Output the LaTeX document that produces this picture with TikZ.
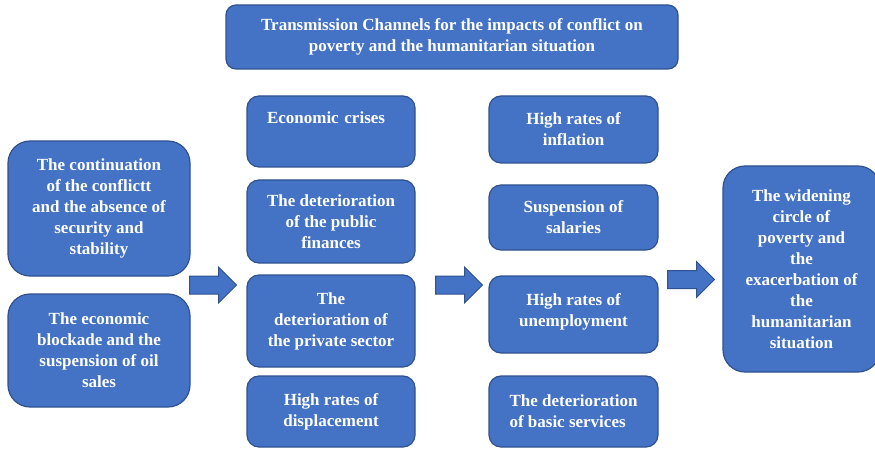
\documentclass[tikz,border=0pt]{standalone}
\usepackage{fontspec}
\setmainfont{Liberation Serif}
\usetikzlibrary{shapes.arrows}
\definecolor{boxblue}{HTML}{4472C4}
\definecolor{boxedge}{HTML}{2F528F}
\tikzset{
  chan/.style={draw=boxedge, fill=boxblue, line width=1.2pt,
    rounded corners=12pt, text=white, align=center, inner sep=0pt,
    font=\bfseries\fontsize{17}{21}\selectfont},
  bigchan/.style={chan, rounded corners=22pt},
  push/.style={single arrow, draw=boxedge, fill=boxblue, line width=1pt,
    minimum height=47pt, inner sep=8.5pt, single arrow head extend=9pt,
    anchor=tail}
}
\begin{document}
\begin{tikzpicture}[x=1pt,y=-1pt]
        \useasboundingbox (0,0) rectangle (875,449);

        \node (title) [chan, rounded corners=10pt, minimum width=452pt, minimum height=64pt] at (452,37)
        {Transmission Channels for the impacts of conflict on\\ poverty and the humanitarian situation};

        \node (conflict) [bigchan, minimum width=182pt, minimum height=135pt] at (99,208.5)
        {The continuation\\ of the conflictt\\ and the absence of\\ security and\\ stability};
        \node (blockade) [bigchan, minimum width=182pt, minimum height=113pt] at (99,350.5)
        {The economic\\ blockade and the\\ suspension of oil\\ sales};

        \node (crises) [chan, align=left, text width=128pt, minimum width=168pt, minimum height=71pt] at (331,131.5)
        {Economic crises\\[6pt] \mbox{}};
        \node (finances) [chan, minimum width=168pt, minimum height=83pt] at (331,221.5)
        {The deterioration\\ of the public\\ finances};
        \node (private) [chan, minimum width=168pt, minimum height=92pt] at (331,321)
        {The\\ deterioration of\\ the private sector};
        \node (displace) [chan, minimum width=168pt, minimum height=71pt] at (331,411.5)
        {High rates of\\ displacement};

        \node (inflation) [chan, minimum width=169pt, minimum height=67pt] at (573.5,129.5)
        {High rates of\\ inflation};
        \node (salaries) [chan, minimum width=169pt, minimum height=65pt] at (573.5,217.5)
        {Suspension of\\ salaries};
        \node (unemploy) [chan, minimum width=169pt, minimum height=77pt] at (573.5,314.5)
        {High rates of\\ unemployment\\[-13pt] \mbox{}};
        \node (services) [chan, align=left, minimum width=169pt, minimum height=71pt] at (573.5,411.5)
        {The deterioration\\ of basic services};

        \node (poverty) [bigchan, minimum width=157pt, minimum height=206pt] at (801.5,269)
        {The widening\\ circle of\\ poverty and\\ the\\ exacerbation of\\ the\\ humanitarian\\ situation};

        \node (push-a) [push] at (189,285) {};
        \node (push-b) [push] at (435,285) {};
        \node (push-c) [push] at (667,279.5) {};
\end{tikzpicture}
\end{document}
